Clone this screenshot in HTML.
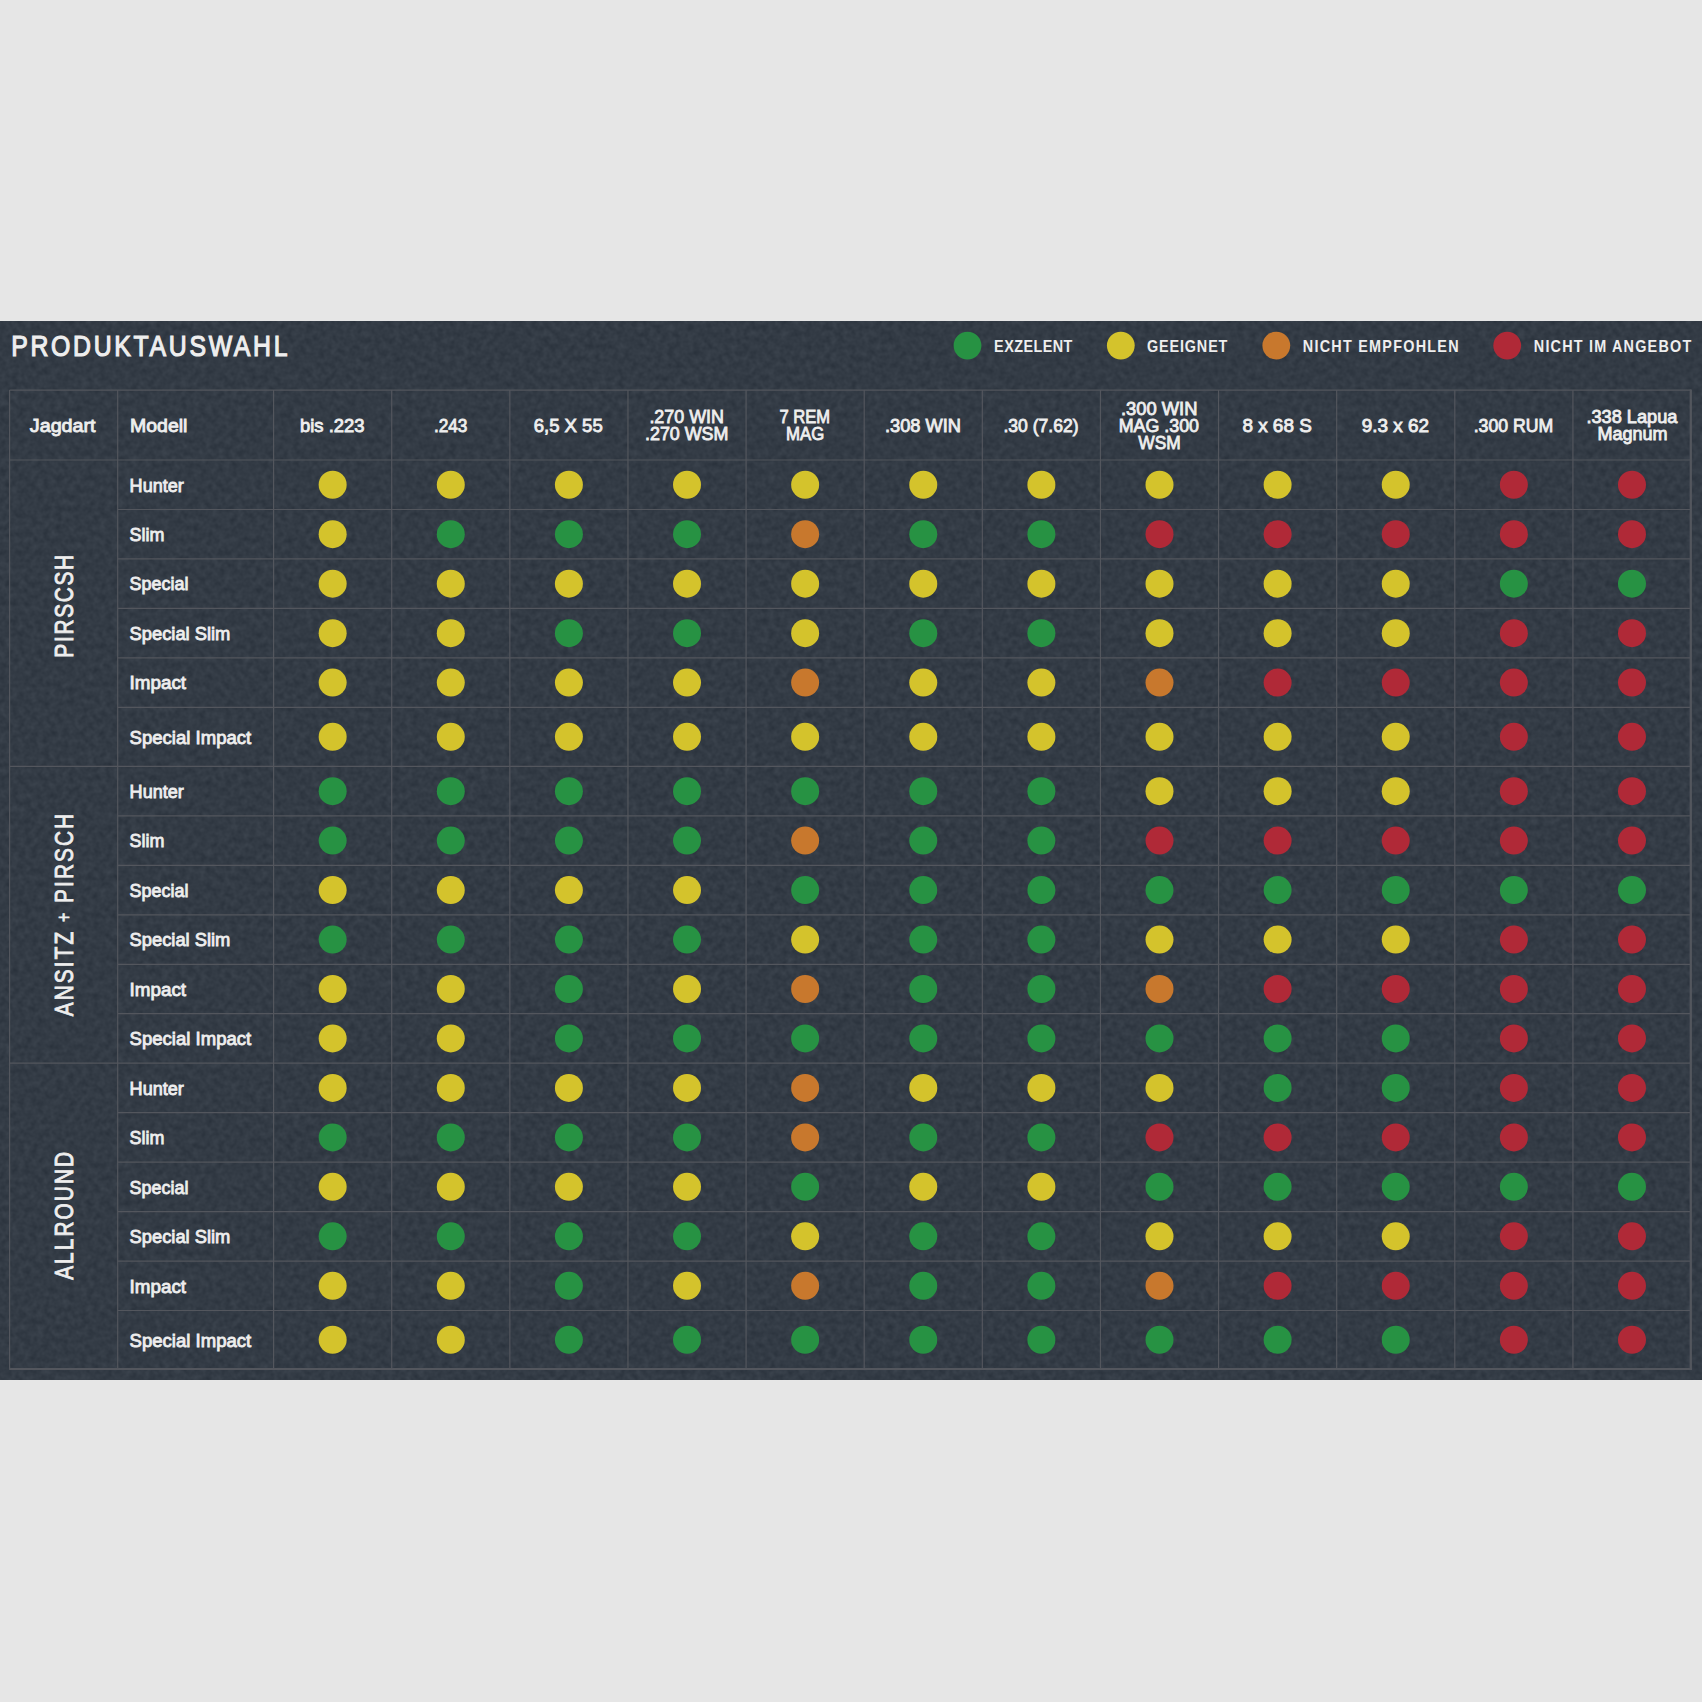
<!DOCTYPE html>
<html lang="de"><head><meta charset="utf-8"><title>Produktauswahl</title>
<style>html,body{margin:0;padding:0;background:#e6e6e6;}body{width:1702px;height:1702px;overflow:hidden;}svg{display:block;}text{font-family:"Liberation Sans",sans-serif;fill:#eeeeee;}.m{font-size:18.7px;stroke:#eeeeee;stroke-width:.85px;}.l{font-size:16px;font-weight:bold;}.t{font-size:29.2px;stroke:#eeeeee;stroke-width:1.1px;vector-effect:non-scaling-stroke;}.g{font-size:26.7px;text-anchor:middle;stroke:#eeeeee;stroke-width:.8px;vector-effect:non-scaling-stroke;}</style></head><body>
<svg width="1702" height="1702" viewBox="0 0 1702 1702">
<defs><filter id="n" x="0" y="0" width="100%" height="100%" color-interpolation-filters="sRGB"><feTurbulence type="fractalNoise" baseFrequency="0.16" numOctaves="2" seed="7"/><feColorMatrix type="matrix" values="0.09 0 0 0 0.1550  0.09 0 0 0 0.1864  0.09 0 0 0 0.2256  0 0 0 0 1"/></filter></defs>
<rect width="1702" height="1702" fill="#e6e6e6"/>
<rect x="0" y="321.7" width="1702" height="1058.1" fill="#333b45"/>
<rect x="0" y="321.7" width="1702" height="1058.1" filter="url(#n)"/>
<g stroke="#53565d" stroke-width="1.2" fill="none">
<path d="M9.6 390.1H1691.04"/>
<path d="M9.6 460H1691.04"/>
<path d="M117.7 509.5H1691.04"/>
<path d="M117.7 558.9H1691.04"/>
<path d="M117.7 608.4H1691.04"/>
<path d="M117.7 657.9H1691.04"/>
<path d="M117.7 707.3H1691.04"/>
<path d="M9.6 766.4H1691.04"/>
<path d="M117.7 815.9H1691.04"/>
<path d="M117.7 865.3H1691.04"/>
<path d="M117.7 914.8H1691.04"/>
<path d="M117.7 964.3H1691.04"/>
<path d="M117.7 1013.7H1691.04"/>
<path d="M9.6 1063.2H1691.04"/>
<path d="M117.7 1112.7H1691.04"/>
<path d="M117.7 1162.1H1691.04"/>
<path d="M117.7 1211.6H1691.04"/>
<path d="M117.7 1261.1H1691.04"/>
<path d="M117.7 1310.5H1691.04"/>
<path stroke-width="2" d="M9.1 1369H1692.04"/>
<path d="M9.6 390.1V1369"/>
<path d="M117.7 390.1V1369"/>
<path d="M273.6 390.1V1369"/>
<path d="M391.72 390.1V1369"/>
<path d="M509.84 390.1V1369"/>
<path d="M627.96 390.1V1369"/>
<path d="M746.08 390.1V1369"/>
<path d="M864.2 390.1V1369"/>
<path d="M982.32 390.1V1369"/>
<path d="M1100.44 390.1V1369"/>
<path d="M1218.56 390.1V1369"/>
<path d="M1336.68 390.1V1369"/>
<path d="M1454.8 390.1V1369"/>
<path d="M1572.92 390.1V1369"/>
<path stroke-width="2.3" d="M1690.8 389.6V1370"/>
</g>
<text class="t" transform="translate(11.2 356.3) scale(0.85 1)" textLength="325.059" lengthAdjust="spacing">PRODUKTAUSWAHL</text>
<circle cx="967.5" cy="345.6" r="13.9" fill="#279243"/>
<text class="l" transform="translate(994.1 351.8) scale(0.9 1)" textLength="87" lengthAdjust="spacing">EXZELENT</text>
<circle cx="1120.8" cy="345.6" r="13.9" fill="#d4c32c"/>
<text class="l" transform="translate(1146.9 351.8) scale(0.9 1)" textLength="89.4444" lengthAdjust="spacing">GEEIGNET</text>
<circle cx="1276.3" cy="345.6" r="13.9" fill="#c8782d"/>
<text class="l" transform="translate(1302.8 351.8) scale(0.9 1)" textLength="173.111" lengthAdjust="spacing">NICHT EMPFOHLEN</text>
<circle cx="1507.2" cy="345.6" r="13.9" fill="#b02937"/>
<text class="l" transform="translate(1533.8 351.8) scale(0.9 1)" textLength="174.889" lengthAdjust="spacing">NICHT IM ANGEBOT</text>
<text class="m" x="29.8" y="432.3" textLength="65.8" lengthAdjust="spacingAndGlyphs">Jagdart</text>
<text class="m" x="130" y="432.3" textLength="57.4" lengthAdjust="spacingAndGlyphs">Modell</text>
<text class="m" x="300" y="432.2" textLength="64.5" lengthAdjust="spacingAndGlyphs">bis .223</text>
<text class="m" x="433.9" y="432.2" textLength="33.5" lengthAdjust="spacingAndGlyphs">.243</text>
<text class="m" x="533.7" y="432.2" textLength="69" lengthAdjust="spacingAndGlyphs">6,5 X 55</text>
<text class="m" x="649.4" y="423.2" textLength="74.6" lengthAdjust="spacingAndGlyphs">.270 WIN</text>
<text class="m" x="645" y="440.3" textLength="83.4" lengthAdjust="spacingAndGlyphs">.270 WSM</text>
<text class="m" x="779.4" y="423.2" textLength="50.6" lengthAdjust="spacingAndGlyphs">7 REM</text>
<text class="m" x="786" y="440.3" textLength="38.2" lengthAdjust="spacingAndGlyphs">MAG</text>
<text class="m" x="885" y="432.2" textLength="76" lengthAdjust="spacingAndGlyphs">.308 WIN</text>
<text class="m" x="1003.5" y="432.2" textLength="75" lengthAdjust="spacingAndGlyphs">.30 (7.62)</text>
<text class="m" x="1120.9" y="415.2" textLength="76.5" lengthAdjust="spacingAndGlyphs">.300 WIN</text>
<text class="m" x="1118.7" y="432.3" textLength="80.3" lengthAdjust="spacingAndGlyphs">MAG .300</text>
<text class="m" x="1138.3" y="449.4" textLength="42.4" lengthAdjust="spacingAndGlyphs">WSM</text>
<text class="m" x="1242.4" y="432.2" textLength="69.4" lengthAdjust="spacingAndGlyphs">8 x 68 S</text>
<text class="m" x="1361.8" y="432.2" textLength="67.3" lengthAdjust="spacingAndGlyphs">9.3 x 62</text>
<text class="m" x="1473.7" y="432.2" textLength="79.5" lengthAdjust="spacingAndGlyphs">.300 RUM</text>
<text class="m" x="1586.4" y="423.2" textLength="91.1" lengthAdjust="spacingAndGlyphs">.338 Lapua</text>
<text class="m" x="1597.4" y="440.3" textLength="70.2" lengthAdjust="spacingAndGlyphs">Magnum</text>
<text class="m" x="129.6" y="492" textLength="54.2" lengthAdjust="spacingAndGlyphs">Hunter</text>
<circle cx="332.66" cy="484.75" r="14" fill="#d4c32c"/>
<circle cx="450.78" cy="484.75" r="14" fill="#d4c32c"/>
<circle cx="568.9" cy="484.75" r="14" fill="#d4c32c"/>
<circle cx="687.02" cy="484.75" r="14" fill="#d4c32c"/>
<circle cx="805.14" cy="484.75" r="14" fill="#d4c32c"/>
<circle cx="923.26" cy="484.75" r="14" fill="#d4c32c"/>
<circle cx="1041.38" cy="484.75" r="14" fill="#d4c32c"/>
<circle cx="1159.5" cy="484.75" r="14" fill="#d4c32c"/>
<circle cx="1277.62" cy="484.75" r="14" fill="#d4c32c"/>
<circle cx="1395.74" cy="484.75" r="14" fill="#d4c32c"/>
<circle cx="1513.86" cy="484.75" r="14" fill="#b02937"/>
<circle cx="1631.98" cy="484.75" r="14" fill="#b02937"/>
<text class="m" x="129.6" y="541" textLength="34.8" lengthAdjust="spacingAndGlyphs">Slim</text>
<circle cx="332.66" cy="534.2" r="14" fill="#d4c32c"/>
<circle cx="450.78" cy="534.2" r="14" fill="#279243"/>
<circle cx="568.9" cy="534.2" r="14" fill="#279243"/>
<circle cx="687.02" cy="534.2" r="14" fill="#279243"/>
<circle cx="805.14" cy="534.2" r="14" fill="#c8782d"/>
<circle cx="923.26" cy="534.2" r="14" fill="#279243"/>
<circle cx="1041.38" cy="534.2" r="14" fill="#279243"/>
<circle cx="1159.5" cy="534.2" r="14" fill="#b02937"/>
<circle cx="1277.62" cy="534.2" r="14" fill="#b02937"/>
<circle cx="1395.74" cy="534.2" r="14" fill="#b02937"/>
<circle cx="1513.86" cy="534.2" r="14" fill="#b02937"/>
<circle cx="1631.98" cy="534.2" r="14" fill="#b02937"/>
<text class="m" x="129.6" y="590" textLength="58.8" lengthAdjust="spacingAndGlyphs">Special</text>
<circle cx="332.66" cy="583.65" r="14" fill="#d4c32c"/>
<circle cx="450.78" cy="583.65" r="14" fill="#d4c32c"/>
<circle cx="568.9" cy="583.65" r="14" fill="#d4c32c"/>
<circle cx="687.02" cy="583.65" r="14" fill="#d4c32c"/>
<circle cx="805.14" cy="583.65" r="14" fill="#d4c32c"/>
<circle cx="923.26" cy="583.65" r="14" fill="#d4c32c"/>
<circle cx="1041.38" cy="583.65" r="14" fill="#d4c32c"/>
<circle cx="1159.5" cy="583.65" r="14" fill="#d4c32c"/>
<circle cx="1277.62" cy="583.65" r="14" fill="#d4c32c"/>
<circle cx="1395.74" cy="583.65" r="14" fill="#d4c32c"/>
<circle cx="1513.86" cy="583.65" r="14" fill="#279243"/>
<circle cx="1631.98" cy="583.65" r="14" fill="#279243"/>
<text class="m" x="129.6" y="640" textLength="100.8" lengthAdjust="spacingAndGlyphs">Special Slim</text>
<circle cx="332.66" cy="633.15" r="14" fill="#d4c32c"/>
<circle cx="450.78" cy="633.15" r="14" fill="#d4c32c"/>
<circle cx="568.9" cy="633.15" r="14" fill="#279243"/>
<circle cx="687.02" cy="633.15" r="14" fill="#279243"/>
<circle cx="805.14" cy="633.15" r="14" fill="#d4c32c"/>
<circle cx="923.26" cy="633.15" r="14" fill="#279243"/>
<circle cx="1041.38" cy="633.15" r="14" fill="#279243"/>
<circle cx="1159.5" cy="633.15" r="14" fill="#d4c32c"/>
<circle cx="1277.62" cy="633.15" r="14" fill="#d4c32c"/>
<circle cx="1395.74" cy="633.15" r="14" fill="#d4c32c"/>
<circle cx="1513.86" cy="633.15" r="14" fill="#b02937"/>
<circle cx="1631.98" cy="633.15" r="14" fill="#b02937"/>
<text class="m" x="129.6" y="689" textLength="56.5" lengthAdjust="spacingAndGlyphs">Impact</text>
<circle cx="332.66" cy="682.6" r="14" fill="#d4c32c"/>
<circle cx="450.78" cy="682.6" r="14" fill="#d4c32c"/>
<circle cx="568.9" cy="682.6" r="14" fill="#d4c32c"/>
<circle cx="687.02" cy="682.6" r="14" fill="#d4c32c"/>
<circle cx="805.14" cy="682.6" r="14" fill="#c8782d"/>
<circle cx="923.26" cy="682.6" r="14" fill="#d4c32c"/>
<circle cx="1041.38" cy="682.6" r="14" fill="#d4c32c"/>
<circle cx="1159.5" cy="682.6" r="14" fill="#c8782d"/>
<circle cx="1277.62" cy="682.6" r="14" fill="#b02937"/>
<circle cx="1395.74" cy="682.6" r="14" fill="#b02937"/>
<circle cx="1513.86" cy="682.6" r="14" fill="#b02937"/>
<circle cx="1631.98" cy="682.6" r="14" fill="#b02937"/>
<text class="m" x="129.6" y="744" textLength="121.6" lengthAdjust="spacingAndGlyphs">Special Impact</text>
<circle cx="332.66" cy="736.85" r="14" fill="#d4c32c"/>
<circle cx="450.78" cy="736.85" r="14" fill="#d4c32c"/>
<circle cx="568.9" cy="736.85" r="14" fill="#d4c32c"/>
<circle cx="687.02" cy="736.85" r="14" fill="#d4c32c"/>
<circle cx="805.14" cy="736.85" r="14" fill="#d4c32c"/>
<circle cx="923.26" cy="736.85" r="14" fill="#d4c32c"/>
<circle cx="1041.38" cy="736.85" r="14" fill="#d4c32c"/>
<circle cx="1159.5" cy="736.85" r="14" fill="#d4c32c"/>
<circle cx="1277.62" cy="736.85" r="14" fill="#d4c32c"/>
<circle cx="1395.74" cy="736.85" r="14" fill="#d4c32c"/>
<circle cx="1513.86" cy="736.85" r="14" fill="#b02937"/>
<circle cx="1631.98" cy="736.85" r="14" fill="#b02937"/>
<text class="m" x="129.6" y="798" textLength="54.2" lengthAdjust="spacingAndGlyphs">Hunter</text>
<circle cx="332.66" cy="791.15" r="14" fill="#279243"/>
<circle cx="450.78" cy="791.15" r="14" fill="#279243"/>
<circle cx="568.9" cy="791.15" r="14" fill="#279243"/>
<circle cx="687.02" cy="791.15" r="14" fill="#279243"/>
<circle cx="805.14" cy="791.15" r="14" fill="#279243"/>
<circle cx="923.26" cy="791.15" r="14" fill="#279243"/>
<circle cx="1041.38" cy="791.15" r="14" fill="#279243"/>
<circle cx="1159.5" cy="791.15" r="14" fill="#d4c32c"/>
<circle cx="1277.62" cy="791.15" r="14" fill="#d4c32c"/>
<circle cx="1395.74" cy="791.15" r="14" fill="#d4c32c"/>
<circle cx="1513.86" cy="791.15" r="14" fill="#b02937"/>
<circle cx="1631.98" cy="791.15" r="14" fill="#b02937"/>
<text class="m" x="129.6" y="847" textLength="34.8" lengthAdjust="spacingAndGlyphs">Slim</text>
<circle cx="332.66" cy="840.6" r="14" fill="#279243"/>
<circle cx="450.78" cy="840.6" r="14" fill="#279243"/>
<circle cx="568.9" cy="840.6" r="14" fill="#279243"/>
<circle cx="687.02" cy="840.6" r="14" fill="#279243"/>
<circle cx="805.14" cy="840.6" r="14" fill="#c8782d"/>
<circle cx="923.26" cy="840.6" r="14" fill="#279243"/>
<circle cx="1041.38" cy="840.6" r="14" fill="#279243"/>
<circle cx="1159.5" cy="840.6" r="14" fill="#b02937"/>
<circle cx="1277.62" cy="840.6" r="14" fill="#b02937"/>
<circle cx="1395.74" cy="840.6" r="14" fill="#b02937"/>
<circle cx="1513.86" cy="840.6" r="14" fill="#b02937"/>
<circle cx="1631.98" cy="840.6" r="14" fill="#b02937"/>
<text class="m" x="129.6" y="897" textLength="58.8" lengthAdjust="spacingAndGlyphs">Special</text>
<circle cx="332.66" cy="890.05" r="14" fill="#d4c32c"/>
<circle cx="450.78" cy="890.05" r="14" fill="#d4c32c"/>
<circle cx="568.9" cy="890.05" r="14" fill="#d4c32c"/>
<circle cx="687.02" cy="890.05" r="14" fill="#d4c32c"/>
<circle cx="805.14" cy="890.05" r="14" fill="#279243"/>
<circle cx="923.26" cy="890.05" r="14" fill="#279243"/>
<circle cx="1041.38" cy="890.05" r="14" fill="#279243"/>
<circle cx="1159.5" cy="890.05" r="14" fill="#279243"/>
<circle cx="1277.62" cy="890.05" r="14" fill="#279243"/>
<circle cx="1395.74" cy="890.05" r="14" fill="#279243"/>
<circle cx="1513.86" cy="890.05" r="14" fill="#279243"/>
<circle cx="1631.98" cy="890.05" r="14" fill="#279243"/>
<text class="m" x="129.6" y="946" textLength="100.8" lengthAdjust="spacingAndGlyphs">Special Slim</text>
<circle cx="332.66" cy="939.55" r="14" fill="#279243"/>
<circle cx="450.78" cy="939.55" r="14" fill="#279243"/>
<circle cx="568.9" cy="939.55" r="14" fill="#279243"/>
<circle cx="687.02" cy="939.55" r="14" fill="#279243"/>
<circle cx="805.14" cy="939.55" r="14" fill="#d4c32c"/>
<circle cx="923.26" cy="939.55" r="14" fill="#279243"/>
<circle cx="1041.38" cy="939.55" r="14" fill="#279243"/>
<circle cx="1159.5" cy="939.55" r="14" fill="#d4c32c"/>
<circle cx="1277.62" cy="939.55" r="14" fill="#d4c32c"/>
<circle cx="1395.74" cy="939.55" r="14" fill="#d4c32c"/>
<circle cx="1513.86" cy="939.55" r="14" fill="#b02937"/>
<circle cx="1631.98" cy="939.55" r="14" fill="#b02937"/>
<text class="m" x="129.6" y="996" textLength="56.5" lengthAdjust="spacingAndGlyphs">Impact</text>
<circle cx="332.66" cy="989" r="14" fill="#d4c32c"/>
<circle cx="450.78" cy="989" r="14" fill="#d4c32c"/>
<circle cx="568.9" cy="989" r="14" fill="#279243"/>
<circle cx="687.02" cy="989" r="14" fill="#d4c32c"/>
<circle cx="805.14" cy="989" r="14" fill="#c8782d"/>
<circle cx="923.26" cy="989" r="14" fill="#279243"/>
<circle cx="1041.38" cy="989" r="14" fill="#279243"/>
<circle cx="1159.5" cy="989" r="14" fill="#c8782d"/>
<circle cx="1277.62" cy="989" r="14" fill="#b02937"/>
<circle cx="1395.74" cy="989" r="14" fill="#b02937"/>
<circle cx="1513.86" cy="989" r="14" fill="#b02937"/>
<circle cx="1631.98" cy="989" r="14" fill="#b02937"/>
<text class="m" x="129.6" y="1045" textLength="121.6" lengthAdjust="spacingAndGlyphs">Special Impact</text>
<circle cx="332.66" cy="1038.45" r="14" fill="#d4c32c"/>
<circle cx="450.78" cy="1038.45" r="14" fill="#d4c32c"/>
<circle cx="568.9" cy="1038.45" r="14" fill="#279243"/>
<circle cx="687.02" cy="1038.45" r="14" fill="#279243"/>
<circle cx="805.14" cy="1038.45" r="14" fill="#279243"/>
<circle cx="923.26" cy="1038.45" r="14" fill="#279243"/>
<circle cx="1041.38" cy="1038.45" r="14" fill="#279243"/>
<circle cx="1159.5" cy="1038.45" r="14" fill="#279243"/>
<circle cx="1277.62" cy="1038.45" r="14" fill="#279243"/>
<circle cx="1395.74" cy="1038.45" r="14" fill="#279243"/>
<circle cx="1513.86" cy="1038.45" r="14" fill="#b02937"/>
<circle cx="1631.98" cy="1038.45" r="14" fill="#b02937"/>
<text class="m" x="129.6" y="1095" textLength="54.2" lengthAdjust="spacingAndGlyphs">Hunter</text>
<circle cx="332.66" cy="1087.95" r="14" fill="#d4c32c"/>
<circle cx="450.78" cy="1087.95" r="14" fill="#d4c32c"/>
<circle cx="568.9" cy="1087.95" r="14" fill="#d4c32c"/>
<circle cx="687.02" cy="1087.95" r="14" fill="#d4c32c"/>
<circle cx="805.14" cy="1087.95" r="14" fill="#c8782d"/>
<circle cx="923.26" cy="1087.95" r="14" fill="#d4c32c"/>
<circle cx="1041.38" cy="1087.95" r="14" fill="#d4c32c"/>
<circle cx="1159.5" cy="1087.95" r="14" fill="#d4c32c"/>
<circle cx="1277.62" cy="1087.95" r="14" fill="#279243"/>
<circle cx="1395.74" cy="1087.95" r="14" fill="#279243"/>
<circle cx="1513.86" cy="1087.95" r="14" fill="#b02937"/>
<circle cx="1631.98" cy="1087.95" r="14" fill="#b02937"/>
<text class="m" x="129.6" y="1144" textLength="34.8" lengthAdjust="spacingAndGlyphs">Slim</text>
<circle cx="332.66" cy="1137.4" r="14" fill="#279243"/>
<circle cx="450.78" cy="1137.4" r="14" fill="#279243"/>
<circle cx="568.9" cy="1137.4" r="14" fill="#279243"/>
<circle cx="687.02" cy="1137.4" r="14" fill="#279243"/>
<circle cx="805.14" cy="1137.4" r="14" fill="#c8782d"/>
<circle cx="923.26" cy="1137.4" r="14" fill="#279243"/>
<circle cx="1041.38" cy="1137.4" r="14" fill="#279243"/>
<circle cx="1159.5" cy="1137.4" r="14" fill="#b02937"/>
<circle cx="1277.62" cy="1137.4" r="14" fill="#b02937"/>
<circle cx="1395.74" cy="1137.4" r="14" fill="#b02937"/>
<circle cx="1513.86" cy="1137.4" r="14" fill="#b02937"/>
<circle cx="1631.98" cy="1137.4" r="14" fill="#b02937"/>
<text class="m" x="129.6" y="1194" textLength="58.8" lengthAdjust="spacingAndGlyphs">Special</text>
<circle cx="332.66" cy="1186.85" r="14" fill="#d4c32c"/>
<circle cx="450.78" cy="1186.85" r="14" fill="#d4c32c"/>
<circle cx="568.9" cy="1186.85" r="14" fill="#d4c32c"/>
<circle cx="687.02" cy="1186.85" r="14" fill="#d4c32c"/>
<circle cx="805.14" cy="1186.85" r="14" fill="#279243"/>
<circle cx="923.26" cy="1186.85" r="14" fill="#d4c32c"/>
<circle cx="1041.38" cy="1186.85" r="14" fill="#d4c32c"/>
<circle cx="1159.5" cy="1186.85" r="14" fill="#279243"/>
<circle cx="1277.62" cy="1186.85" r="14" fill="#279243"/>
<circle cx="1395.74" cy="1186.85" r="14" fill="#279243"/>
<circle cx="1513.86" cy="1186.85" r="14" fill="#279243"/>
<circle cx="1631.98" cy="1186.85" r="14" fill="#279243"/>
<text class="m" x="129.6" y="1243" textLength="100.8" lengthAdjust="spacingAndGlyphs">Special Slim</text>
<circle cx="332.66" cy="1236.35" r="14" fill="#279243"/>
<circle cx="450.78" cy="1236.35" r="14" fill="#279243"/>
<circle cx="568.9" cy="1236.35" r="14" fill="#279243"/>
<circle cx="687.02" cy="1236.35" r="14" fill="#279243"/>
<circle cx="805.14" cy="1236.35" r="14" fill="#d4c32c"/>
<circle cx="923.26" cy="1236.35" r="14" fill="#279243"/>
<circle cx="1041.38" cy="1236.35" r="14" fill="#279243"/>
<circle cx="1159.5" cy="1236.35" r="14" fill="#d4c32c"/>
<circle cx="1277.62" cy="1236.35" r="14" fill="#d4c32c"/>
<circle cx="1395.74" cy="1236.35" r="14" fill="#d4c32c"/>
<circle cx="1513.86" cy="1236.35" r="14" fill="#b02937"/>
<circle cx="1631.98" cy="1236.35" r="14" fill="#b02937"/>
<text class="m" x="129.6" y="1293" textLength="56.5" lengthAdjust="spacingAndGlyphs">Impact</text>
<circle cx="332.66" cy="1285.8" r="14" fill="#d4c32c"/>
<circle cx="450.78" cy="1285.8" r="14" fill="#d4c32c"/>
<circle cx="568.9" cy="1285.8" r="14" fill="#279243"/>
<circle cx="687.02" cy="1285.8" r="14" fill="#d4c32c"/>
<circle cx="805.14" cy="1285.8" r="14" fill="#c8782d"/>
<circle cx="923.26" cy="1285.8" r="14" fill="#279243"/>
<circle cx="1041.38" cy="1285.8" r="14" fill="#279243"/>
<circle cx="1159.5" cy="1285.8" r="14" fill="#c8782d"/>
<circle cx="1277.62" cy="1285.8" r="14" fill="#b02937"/>
<circle cx="1395.74" cy="1285.8" r="14" fill="#b02937"/>
<circle cx="1513.86" cy="1285.8" r="14" fill="#b02937"/>
<circle cx="1631.98" cy="1285.8" r="14" fill="#b02937"/>
<text class="m" x="129.6" y="1347" textLength="121.6" lengthAdjust="spacingAndGlyphs">Special Impact</text>
<circle cx="332.66" cy="1339.75" r="14" fill="#d4c32c"/>
<circle cx="450.78" cy="1339.75" r="14" fill="#d4c32c"/>
<circle cx="568.9" cy="1339.75" r="14" fill="#279243"/>
<circle cx="687.02" cy="1339.75" r="14" fill="#279243"/>
<circle cx="805.14" cy="1339.75" r="14" fill="#279243"/>
<circle cx="923.26" cy="1339.75" r="14" fill="#279243"/>
<circle cx="1041.38" cy="1339.75" r="14" fill="#279243"/>
<circle cx="1159.5" cy="1339.75" r="14" fill="#279243"/>
<circle cx="1277.62" cy="1339.75" r="14" fill="#279243"/>
<circle cx="1395.74" cy="1339.75" r="14" fill="#279243"/>
<circle cx="1513.86" cy="1339.75" r="14" fill="#b02937"/>
<circle cx="1631.98" cy="1339.75" r="14" fill="#b02937"/>
<text class="g" transform="translate(72.5 606.3) rotate(-90) scale(0.78 1)" textLength="131.667" lengthAdjust="spacing">PIRSCSH</text>
<text class="g" transform="translate(72.5 915.05) rotate(-90) scale(0.78 1)" textLength="259.487" lengthAdjust="spacing">ANSITZ <tspan font-size="20" dy="-1.8">+</tspan><tspan dy="1.8"> PIRSCH</tspan></text>
<text class="g" transform="translate(72.5 1215.9) rotate(-90) scale(0.78 1)" textLength="163.974" lengthAdjust="spacing">ALLROUND</text>
</svg></body></html>
